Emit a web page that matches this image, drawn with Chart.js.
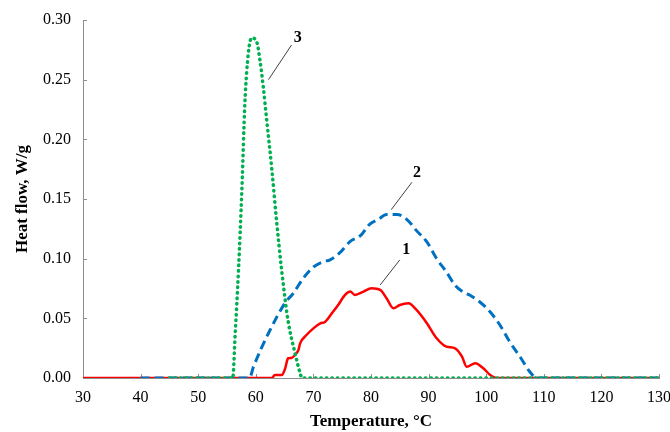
<!DOCTYPE html>
<html>
<head>
<meta charset="utf-8">
<script src="https://cdn.jsdelivr.net/npm/chart.js@4"></script>
<style>
html, body { margin: 0; padding: 0; background: #fff; }
#wrap { width: 670px; height: 432px; position: relative; }
</style>
</head>
<body>
<div id="wrap"><canvas id="dscChart"></canvas></div>
<script>
// curve 1 (red, solid)
var temp1 = [30, 62.8, 63.3, 64.5, 65.1, 65.6, 66.2, 66.8, 67.4, 67.7, 68.8, 70.0, 71.2, 72.0, 73.2, 74.3, 75.5, 76.4, 77.2, 78.7, 80.1, 81.6, 82.7, 83.9, 85.0, 86.5, 87.9, 89.7, 91.4, 93.1, 94.6, 95.8, 96.6, 98.1, 99.5, 100.7, 101.8, 130];
var heat1 = [0, 0, 0.0025, 0.0025, 0.008, 0.0165, 0.0168, 0.0193, 0.0235, 0.029, 0.036, 0.0416, 0.0458, 0.047, 0.0542, 0.0612, 0.0696, 0.0724, 0.0696, 0.0724, 0.0752, 0.0738, 0.0668, 0.0584, 0.0612, 0.0626, 0.057, 0.0459, 0.0333, 0.0263, 0.0249, 0.0179, 0.0095, 0.0123, 0.0081, 0.0025, 0, 0];
// curve 2 (blue, dashed)
var temp2 = [40, 58.9, 59.6, 62.2, 65.1, 66.5, 68.3, 70.0, 71.7, 72.9, 74.6, 76.4, 78.1, 79.8, 81.3, 82.7, 84.5, 86.2, 87.9, 89.7, 91.4, 93.1, 94.6, 96.0, 97.2, 98.9, 100.7, 102.4, 104.1, 105.9, 107.6, 108.8, 130];
var heat2 = [0, 0, 0.0095, 0.0375, 0.063, 0.071, 0.084, 0.093, 0.0975, 0.099, 0.105, 0.1145, 0.119, 0.129, 0.133, 0.137, 0.137, 0.133, 0.1235, 0.114, 0.100, 0.0888, 0.0777, 0.0721, 0.0693, 0.0637, 0.0553, 0.0442, 0.0302, 0.0176, 0.005, 0, 0];
// curve 3 (green, dotted)
var temp3 = [45, 56.0, 56.4, 57.0, 57.6, 58.1, 58.7, 59.3, 60.2, 60.7, 61.3, 61.9, 62.8, 63.6, 64.5, 65.6, 66.8, 67.7, 68.0, 130];
var heat3 = [0, 0, 0.035, 0.091, 0.160, 0.230, 0.272, 0.285, 0.281, 0.267, 0.244, 0.216, 0.174, 0.132, 0.090, 0.048, 0.021, 0.004, 0, 0];

var xTicks = [30, 40, 50, 60, 70, 80, 90, 100, 110, 120, 130];
var yTicks = [0, 0.05, 0.10, 0.15, 0.20, 0.25, 0.30];

// curve numbers with leader lines (data coordinates)
var curveLabels = ['1', '2', '3'];
var labelAt = [[86.1, 0.107], [88.0, 0.172], [67.3, 0.285]];
var leaderFrom = [[85.0, 0.099], [87.1, 0.164], [66.2, 0.279]];
var leaderTo = [[81.6, 0.078], [83.5, 0.141], [62.2, 0.250]];

function toPoints(xs, ys) {
  return xs.map(function (x, i) { return { x: x, y: ys[i] }; });
}

var serif = "'Liberation Serif', 'Times New Roman', serif";
var axisGray = '#8c8c8c';

var innerTicks = {
  id: 'innerTicks',
  beforeDatasetsDraw: function (chart) {
    var c = chart.ctx, xs = chart.scales.x, ys = chart.scales.y;
    c.save();
    c.strokeStyle = axisGray;
    c.lineWidth = 1;
    c.beginPath();
    xTicks.forEach(function (t) {
      var px = Math.round(xs.getPixelForValue(t)) + 0.5;
      c.moveTo(px, ys.bottom);
      c.lineTo(px, ys.bottom - 4);
    });
    yTicks.forEach(function (t) {
      var py = Math.round(ys.getPixelForValue(t)) + 0.5;
      c.moveTo(xs.left, py);
      c.lineTo(xs.left + 4, py);
    });
    c.stroke();
    c.restore();
  }
};

var curveTags = {
  id: 'curveTags',
  afterDatasetsDraw: function (chart) {
    var c = chart.ctx, xs = chart.scales.x, ys = chart.scales.y;
    c.save();
    c.strokeStyle = '#404040';
    c.lineWidth = 1;
    c.fillStyle = '#000';
    c.font = 'bold 16px ' + serif;
    c.textAlign = 'center';
    c.textBaseline = 'middle';
    curveLabels.forEach(function (txt, i) {
      c.beginPath();
      c.moveTo(xs.getPixelForValue(leaderFrom[i][0]), ys.getPixelForValue(leaderFrom[i][1]));
      c.lineTo(xs.getPixelForValue(leaderTo[i][0]), ys.getPixelForValue(leaderTo[i][1]));
      c.stroke();
      c.fillText(txt, xs.getPixelForValue(labelAt[i][0]), ys.getPixelForValue(labelAt[i][1]));
    });
    c.restore();
  }
};

var ctx = document.getElementById('dscChart').getContext('2d');
var dscChart = new Chart(ctx, {
  type: 'scatter',
  data: {
    datasets: [{
      label: '3',
      data: toPoints(temp3, heat3),
      showLine: true,
      borderColor: '#00B050',
      borderWidth: 3.5,
      borderDash: [0.5, 5],
      borderCapStyle: 'round',
      pointRadius: 0,
      cubicInterpolationMode: 'monotone'
    }, {
      label: '2',
      data: toPoints(temp2, heat2),
      showLine: true,
      borderColor: '#0070C0',
      borderWidth: 3,
      borderDash: [9, 5],
      pointRadius: 0,
      cubicInterpolationMode: 'monotone'
    }, {
      label: '1',
      data: toPoints(temp1, heat1),
      showLine: true,
      borderColor: '#FF0000',
      borderWidth: 2.5,
      pointRadius: 0,
      cubicInterpolationMode: 'monotone'
    }]
  },
  options: {
    responsive: true,
    maintainAspectRatio: false,
    animation: false,
    layout: { padding: { top: 20, right: 11, left: 0, bottom: 0 } },
    plugins: {
      legend: { display: false },
      tooltip: { enabled: false }
    },
    scales: {
      x: {
        type: 'linear',
        min: 30,
        max: 130,
        grid: { drawOnChartArea: false, drawTicks: false },
        border: { display: true, color: axisGray, width: 1 },
        ticks: {
          stepSize: 10,
          padding: 10,
          color: '#000',
          font: { family: serif, size: 16 }
        },
        title: {
          display: true,
          text: 'Temperature, °C',
          color: '#000',
          padding: { top: 0, bottom: 0 },
          font: { family: serif, size: 17, weight: 'bold' }
        },
        afterFit: function (s) { s.height = 54; s.paddingLeft = 0; s.paddingRight = 0; }
      },
      y: {
        min: 0,
        max: 0.3,
        grid: { drawOnChartArea: false, drawTicks: false },
        border: { display: true, color: axisGray, width: 1 },
        ticks: {
          stepSize: 0.05,
          padding: 12,
          color: '#000',
          font: { family: serif, size: 16 },
          callback: function (v) { return v.toFixed(2); }
        },
        title: {
          display: true,
          text: 'Heat flow, W/g',
          color: '#000',
          padding: { top: 12, bottom: 0 },
          font: { family: serif, size: 17, weight: 'bold' }
        },
        afterFit: function (s) { s.width = 83; s.paddingTop = 0; s.paddingBottom = 0; }
      }
    }
  },
  plugins: [innerTicks, curveTags]
});
</script>
</body>
</html>
